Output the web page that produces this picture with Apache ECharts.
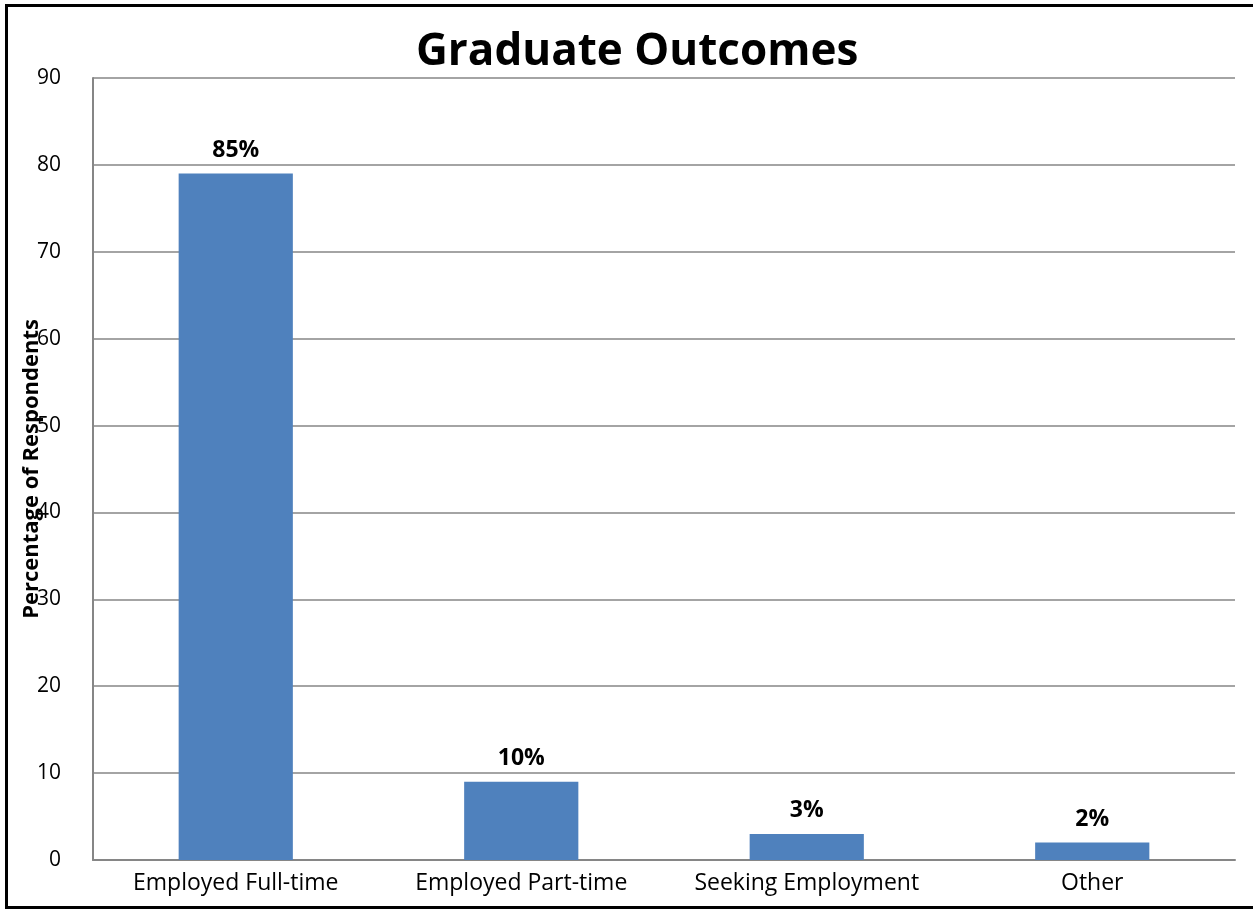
<!DOCTYPE html>
<html>
<head>
<meta charset="utf-8">
<script src="https://cdn.jsdelivr.net/npm/echarts@6/dist/echarts.min.js"></script>
<style>
html,body{margin:0;padding:0;background:#fff;}
#chart{width:1253px;height:910px;}
</style>
</head>
<body>
<div id="chart"></div>
<script>
const categories = ["Employed Full-time", "Employed Part-time", "Seeking Employment", "Other"];
const values = [79, 9, 3, 2];
const labelTexts = ["85%", "10%", "3%", "2%"];
const yTicks = [0, 10, 20, 30, 40, 50, 60, 70, 80, 90];

const chart = echarts.init(document.getElementById('chart'));
const font = '"Open Sans", "Noto Sans", sans-serif';
chart.setOption({
  animation: false,
  title: {
    text: 'Graduate Outcomes',
    left: 411,
    top: 25,
    textStyle: { fontFamily: font, fontSize: 44, fontWeight: 'bold', color: '#000' }
  },
  grid: { left: 93, right: 18, top: 78, bottom: 50, outerBoundsMode: 'none', containLabel: false },
  xAxis: {
    type: 'category',
    data: categories,
    axisLine: { show: true, lineStyle: { color: '#868686', width: 2 } },
    axisTick: { show: false },
    axisLabel: { fontFamily: font, fontSize: 23, color: '#000', margin: 12, interval: 0, hideOverlap: false }
  },
  yAxis: {
    type: 'value',
    min: 0, max: 90, interval: 10,
    name: 'Percentage of Respondents',
    nameLocation: 'middle',
    nameGap: 50,
    nameMoveOverlap: false,
    nameTextStyle: { fontFamily: font, fontSize: 22, fontWeight: 'bold', color: '#000' },
    axisLine: { show: true, lineStyle: { color: '#868686', width: 2 } },
    axisTick: { show: false },
    axisLabel: { fontFamily: font, fontSize: 21, color: '#000', margin: 32,
      formatter: v => yTicks.includes(v) ? String(v) : '' },
    splitLine: { show: true, lineStyle: { color: '#868686', width: 1.5 } }
  },
  series: [{
    type: 'bar',
    data: values,
    barWidth: '40%',
    itemStyle: { color: '#4F81BD' },
    label: {
      show: true,
      position: 'top',
      distance: 12,
      fontFamily: font, fontSize: 23, fontWeight: 'bold', color: '#000',
      formatter: p => labelTexts[p.dataIndex]
    }
  }],
  graphic: [
    { type: 'rect', left: 5, top: 4, shape: { width: 3, height: 905 }, style: { fill: '#000' } },
    { type: 'rect', left: 5, top: 4, shape: { width: 1248, height: 3 }, style: { fill: '#000' } },
    { type: 'rect', left: 5, top: 906, shape: { width: 1248, height: 3 }, style: { fill: '#000' } }
  ]
});
</script>
</body>
</html>
